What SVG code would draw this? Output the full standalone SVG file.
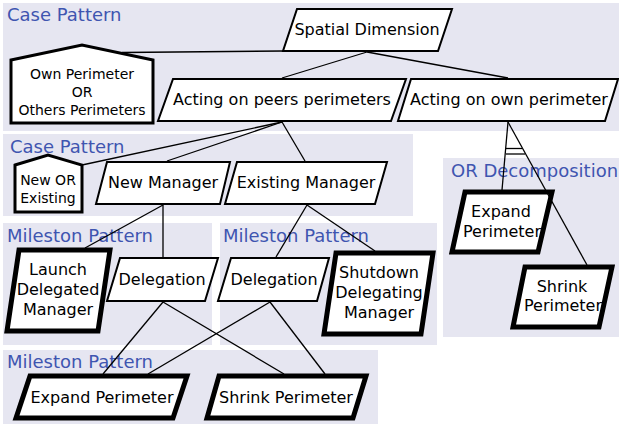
<svg xmlns="http://www.w3.org/2000/svg" width="619" height="430" viewBox="0 0 619 430">
<style>
.bg{fill:#e6e6f1;stroke:none}
.lbl{font-family:"DejaVu Sans",sans-serif;font-size:18px;fill:#3f55b0}
.n{fill:#fff;stroke:#000;stroke-width:2;stroke-linejoin:miter}
.h{fill:#fff;stroke:#000;stroke-width:3;stroke-linejoin:miter}
.t{fill:#fff;stroke:#000;stroke-width:5;stroke-linejoin:miter}
text.x{font-family:"DejaVu Sans",sans-serif;font-size:16px;fill:#000;text-anchor:middle}
text.s{font-family:"DejaVu Sans",sans-serif;font-size:14px;fill:#000;text-anchor:middle}
.c line{stroke:#000;stroke-width:1.3}
</style>
<g id="backgrounds">
<rect class="bg" x="3" y="3" width="616" height="128"/>
<rect class="bg" x="3" y="134" width="410" height="82"/>
<rect class="bg" x="3" y="223" width="209" height="122"/>
<rect class="bg" x="220" y="223" width="217" height="122"/>
<rect class="bg" x="3" y="350" width="375" height="74"/>
<rect class="bg" x="443" y="158" width="176" height="179"/>
<text class="lbl" x="7" y="21">Case Pattern</text>
<text class="lbl" x="10" y="153">Case Pattern</text>
<text class="lbl" x="7" y="242">Mileston Pattern</text>
<text class="lbl" x="223" y="242">Mileston Pattern</text>
<text class="lbl" x="7" y="368">Mileston Pattern</text>
<text class="lbl" x="451" y="177">OR Decomposition</text>
</g>
<g id="spatial"><polygon class="n" points="297,9 452,9 438,51 283,51"/><text class="x" x="367" y="35">Spatial Dimension</text></g>
<g id="own-or-others"><polygon class="h" points="11,60 82,45 153,60 153,123 11,123"/><text class="s" x="82" y="79">Own Perimeter</text><text class="s" x="82" y="97">OR</text><text class="s" x="82" y="115">Others Perimeters</text></g>
<g id="peers"><polygon class="n" points="173,79 406,79 391,121 158,121"/><text class="x" x="282" y="105">Acting on peers perimeters</text></g>
<g id="own"><polygon class="n" points="411,79 618,79 605,121 398,121"/><text class="x" x="509" y="105">Acting on own perimeter</text></g>
<g id="new-or-existing"><polygon class="h" points="15,165 48,155 82,165 82,212 15,212"/><text class="s" x="48" y="185">New OR</text><text class="s" x="48" y="203">Existing</text></g>
<g id="new-manager"><polygon class="n" points="107,162 230,162 220,204 96,204"/><text class="x" x="163" y="188">New Manager</text></g>
<g id="existing-manager"><polygon class="n" points="237,162 387,162 375,204 225,204"/><text class="x" x="306" y="188">Existing Manager</text></g>
<g id="launch"><polygon class="t" points="19,250 110,250 98,331 7,331"/><text class="x" x="58" y="275">Launch</text><text class="x" x="58" y="295">Delegated</text><text class="x" x="58" y="315">Manager</text></g>
<g id="delegation-l"><polygon class="n" points="120,258 218,258 205,301 107,301"/><text class="x" x="162" y="285">Delegation</text></g>
<g id="delegation-r"><polygon class="n" points="231,258 329,258 317,301 218,301"/><text class="x" x="274" y="285">Delegation</text></g>
<g id="shutdown"><polygon class="t" points="336,253 433,253 421,334 324,334"/><text class="x" x="379" y="278">Shutdown</text><text class="x" x="379" y="298">Delegating</text><text class="x" x="379" y="318">Manager</text></g>
<g id="expand-b"><polygon class="t" points="30,376 187,376 173,418 16,418"/><text class="x" x="102" y="403">Expand Perimeter</text></g>
<g id="shrink-b"><polygon class="t" points="219,376 366,376 353,418 207,418"/><text class="x" x="286" y="403">Shrink Perimeter</text></g>
<g id="expand-or"><polygon class="t" points="465,192 552,192 538,252 452,252"/><text class="x" x="501" y="217">Expand</text><text class="x" x="502" y="237">Perimeter</text></g>
<g id="shrink-or"><polygon class="t" points="525,267 612,267 599,327 513,327"/><text class="x" x="562" y="292">Shrink</text><text class="x" x="563" y="311">Perimeter</text></g>
<g id="connectors" class="c">
<line x1="283" y1="51" x2="122" y2="52.5"/>
<line x1="367" y1="52" x2="282" y2="78"/>
<line x1="367" y1="52" x2="508" y2="78"/>
<line x1="282" y1="122" x2="82" y2="165"/>
<line x1="282" y1="122" x2="167" y2="161"/>
<line x1="282" y1="122" x2="305" y2="161"/>
<line x1="508" y1="122" x2="502" y2="190"/>
<line x1="508" y1="122" x2="587" y2="265"/>
<line x1="506" y1="148.5" x2="522" y2="148.5"/>
<line x1="506" y1="154" x2="525" y2="154"/>
<line x1="163" y1="205" x2="85" y2="248"/>
<line x1="163" y1="205" x2="163" y2="257"/>
<line x1="307" y1="205" x2="276" y2="257"/>
<line x1="307" y1="205" x2="375" y2="251"/>
<line x1="163" y1="302" x2="103" y2="374"/>
<line x1="163" y1="302" x2="284" y2="374"/>
<line x1="270" y1="302" x2="148" y2="374"/>
<line x1="270" y1="302" x2="325" y2="374"/>
</g>
</svg>
